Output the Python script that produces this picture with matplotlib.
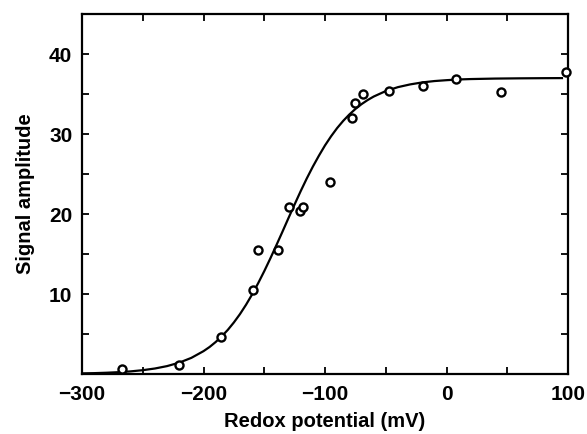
import matplotlib.pyplot as plt
import numpy as np
from matplotlib.ticker import MultipleLocator

plt.rcParams['font.family'] = ['Liberation Sans', 'DejaVu Sans']

# measured points (redox potential in mV, signal amplitude)
potential = [-267, -220, -186, -159.5, -155, -139, -129.5, -120.5, -118,
             -96, -78, -75.3, -68.4, -47, -19.6, 8, 45, 98.5]
amplitude = [0.6, 1.1, 4.6, 10.5, 15.5, 15.5, 20.85, 20.35, 20.85,
             24.0, 31.95, 33.9, 35.0, 35.4, 36.0, 36.9, 35.3, 37.8]

# fitted curve
curve_x = [-300, -290, -280, -270, -260, -250, -240, -230, -220, -210,
           -200, -195, -190, -185, -180, -175, -170, -165, -160, -155,
           -150, -145, -140, -135, -130, -125, -120, -115, -110, -105,
           -100, -95, -90, -85, -80, -75, -70, -65, -60, -50,
           -40, -30, -20, -10, 0, 10, 20, 40, 60, 80, 95]
curve_y = [0.08, 0.11, 0.16, 0.23, 0.33, 0.48, 0.69, 0.99, 1.42, 2.02,
           2.86, 3.38, 4.0, 4.71, 5.52, 6.45, 7.49, 8.66, 9.95, 11.36,
           12.86, 14.45, 16.11, 17.8, 19.52, 21.21, 22.87, 24.45, 25.93, 27.3,
           28.58, 29.72, 30.75, 31.65, 32.44, 33.13, 33.73, 34.24, 34.68, 35.37,
           35.86, 36.2, 36.45, 36.62, 36.73, 36.82, 36.87, 36.93, 36.96, 36.98, 36.99]

fig = plt.figure(figsize=(5.87, 4.34), dpi=100)
ax = fig.add_axes([0.1397, 0.1382, 0.828, 0.8295])

ax.plot(curve_x, curve_y, color='black', lw=1.6)
ax.plot(potential, amplitude, 'o', mfc='white', mec='black', ms=5.8, mew=1.7,
        clip_on=False, zorder=3)

ax.set_xlim(-300, 100)
ax.set_ylim(0, 45)
ax.xaxis.set_major_locator(MultipleLocator(100))
ax.xaxis.set_minor_locator(MultipleLocator(50))
ax.set_yticks([10, 20, 30, 40])
ax.set_yticks([5, 15, 25, 35], minor=True)

ax.tick_params(which='both', direction='in', top=True, right=True,
               length=5, width=1.3)
ax.tick_params(axis='x', pad=8, labelsize=15)
ax.tick_params(axis='y', pad=7, labelsize=15)
for lab in ax.get_xticklabels() + ax.get_yticklabels():
    lab.set_fontweight('bold')

for s in ax.spines.values():
    s.set_linewidth(1.6)

ax.set_xlabel('Redox potential (mV)', fontsize=14.5, fontweight='bold', labelpad=6)
ax.set_ylabel('Signal amplitude', fontsize=14.5, fontweight='bold', labelpad=10)

fig.savefig('out.png', dpi=100)
